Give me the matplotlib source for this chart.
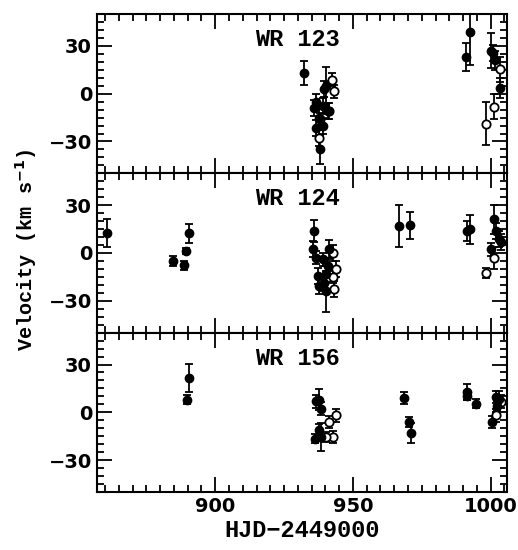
import numpy as np
import matplotlib.pyplot as plt
from matplotlib.ticker import MultipleLocator

# -------------------------
# Dados (HJD-2449000, velocidade, erro)
# -------------------------
stars = ['WR 123', 'WR 124', 'WR 156']

# WR 123
wr123_t_fill = [932.4, 936.6, 936.0, 939.0, 937.8, 936.6, 939.2, 938.0, 939.6, 940.3, 940.8,
                991.2, 992.4, 1000.0, 1000.8, 1001.5, 1003.3]
wr123_v_fill = [12.8, -5.5, -8.7, -7.6, -15.0, -21.3, -20.2, -35.0, 3.0, 5.0, -10.8,
                23.0, 38.8, 27.0, 25.5, 21.0, 3.6]
wr123_e_fill = [7.5, 5, 5, 5, 6, 5, 5, 9, 5, 12, 5,
                8.5, 21, 11, 5, 6, 6]
wr123_t_open = [937.8, 938.0, 941.4, 942.4, 943.3, 1003.4, 1001.2, 998.2]
wr123_v_open = [-27.7, -16.0, -10.8, 8.7, 1.5, 15.2, -8.2, -18.8]
wr123_e_open = [5, 4, 5, 4, 4, 8, 8, 13.5]

# WR 124
wr124_t_fill = [860.7, 884.6, 888.6, 889.5, 890.3, 936.0, 935.4, 936.6, 939.0, 937.2, 939.6,
                937.8, 940.2, 940.8, 940.2, 941.4, 966.8, 970.8, 991.3, 992.5,
                1001.2, 1002.0, 1003.0, 1003.8, 1000.0]
wr124_v_fill = [12.4, -5.0, -7.8, 1.3, 12.4, 13.8, 2.3, -3.0, -4.0, -14.5, -18.7,
                -20.8, -24.0, -8.2, -13.4, 2.3, 17.0, 17.4, 13.8, 14.9,
                21.2, 13.8, 8.6, 6.9, 2.3]
wr124_e_fill = [8.7, 3, 3, 2, 6, 7, 5, 4, 4, 5, 5,
                5, 13, 5, 5, 6, 13, 8.6, 6, 9,
                9, 5, 5, 5, 4]
wr124_t_open = [942.6, 943.8, 943.2, 942.6, 1001.4, 998.2]
wr124_v_open = [0.2, -10.3, -22.8, -15.0, -3.0, -12.4]
wr124_e_open = [5, 5, 5, 4, 7, 3]

# WR 156
wr156_t_fill = [890.4, 889.7, 936.6, 937.8, 938.4, 937.5, 936.3, 938.4, 968.6, 970.2, 971.0,
                991.5, 991.5, 994.8, 1000.6, 1001.8, 1003.0, 1002.5]
wr156_v_fill = [21.6, 8.0, 7.0, 8.0, 2.3, -11.3, -16.5, -15.5, 9.0, -6.1, -13.0,
                12.8, 10.5, 5.5, -6.1, 9.6, 8.5, 4.0]
wr156_e_fill = [8.7, 3, 4, 6.5, 4, 4, 3, 8.5, 4, 3, 6,
                5, 3, 3, 4, 4, 5, 3]
wr156_t_open = [943.8, 941.4, 942.6, 940.4, 1001.8, 1003.8]
wr156_v_open = [-1.9, -6.1, -15.5, -15.5, -1.9, 6.7]
wr156_e_open = [4, 4, 4, 3, 4, 4]

filled = [(wr123_t_fill, wr123_v_fill, wr123_e_fill),
          (wr124_t_fill, wr124_v_fill, wr124_e_fill),
          (wr156_t_fill, wr156_v_fill, wr156_e_fill)]
opened = [(wr123_t_open, wr123_v_open, wr123_e_open),
          (wr124_t_open, wr124_v_open, wr124_e_open),
          (wr156_t_open, wr156_v_open, wr156_e_open)]

# -------------------------
# Grafico
# -------------------------
mono = ['Liberation Mono', 'DejaVu Sans Mono']
fig, axes = plt.subplots(3, 1, sharex=True, figsize=(5.18, 5.5), dpi=100)
fig.subplots_adjust(left=0.187, right=0.979, bottom=0.1055, top=0.9745, hspace=0)

for ax, name, f, o in zip(axes, stars, filled, opened):
    ax.errorbar(o[0], o[1], yerr=o[2], fmt='o', ms=6, mfc='white', mec='black',
                mew=1.3, ecolor='black', elinewidth=1.3, capsize=3, capthick=1.3)
    ax.errorbar(f[0], f[1], yerr=f[2], fmt='o', ms=6, color='black',
                elinewidth=1.3, capsize=3, capthick=1.3)
    ax.set_ylim(-50, 50)
    ax.set_xlim(857, 1006)
    ax.yaxis.set_major_locator(MultipleLocator(30))
    ax.yaxis.set_minor_locator(MultipleLocator(5))
    ax.xaxis.set_major_locator(MultipleLocator(50))
    ax.xaxis.set_minor_locator(MultipleLocator(5))
    ax.tick_params(which='both', direction='in', top=True, right=True, width=1.3)
    ax.tick_params(which='major', length=11)
    ax.tick_params(which='minor', length=5)
    ax.tick_params(labelsize=14)
    for lab in ax.get_xticklabels() + ax.get_yticklabels():
        lab.set_fontweight('bold')
    for sp in ax.spines.values():
        sp.set_linewidth(1.5)
    ax.text(0.49, 0.84, name, transform=ax.transAxes, ha='center', va='center',
            fontsize=17, fontweight='bold', family=mono)

axes[2].set_xlabel('HJD\u22122449000', fontsize=17, fontweight='bold', family=mono,
                   labelpad=2)
fig.text(0.05, 0.545, 'Velocity (km s$^{\\mathbf{-1}}$)', rotation=90, ha='center',
         va='center', fontsize=14.5, fontweight='bold', family=mono)

plt.savefig('out.png', dpi=100)
